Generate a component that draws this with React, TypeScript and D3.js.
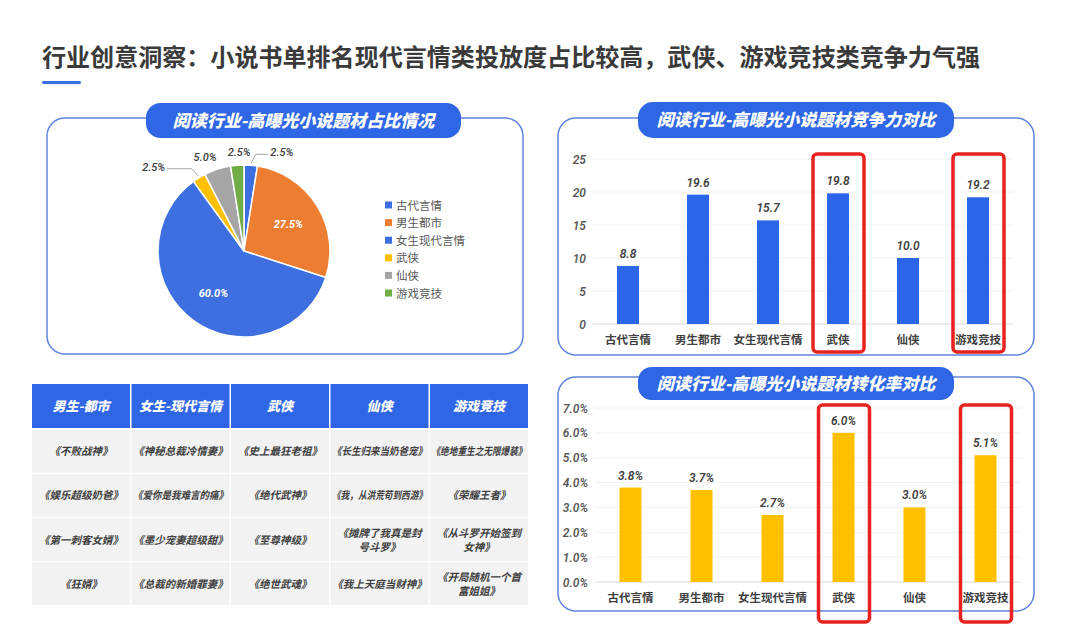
import React from 'react';
import * as d3 from 'd3';

// ---------- data ----------
const pageTitle = '行业创意洞察：小说书单排名现代言情类投放度占比较高，武侠、游戏竞技类竞争力气强';

const pieTitle = '阅读行业-高曝光小说题材占比情况';
const pieCategories = ['古代言情', '男生都市', '女生现代言情', '武侠', '仙侠', '游戏竞技'];
const pieShares = [2.5, 27.5, 60.0, 2.5, 5.0, 2.5];
const pieColors = ['#3d6fe0', '#ed7d31', '#3d6fe0', '#ffc000', '#a5a5a5', '#70ad47'];

const barCategories = ['古代言情', '男生都市', '女生现代言情', '武侠', '仙侠', '游戏竞技'];
const compTitle = '阅读行业-高曝光小说题材竞争力对比';
const competitiveness = [8.8, 19.6, 15.7, 19.8, 10.0, 19.2];
const compTicks = [0, 5, 10, 15, 20, 25];

const convTitle = '阅读行业-高曝光小说题材转化率对比';
const conversionRate = [3.8, 3.7, 2.7, 6.0, 3.0, 5.1];
const convTicks = [0, 1, 2, 3, 4, 5, 6, 7];

const highlighted = ['武侠', '游戏竞技'];

const tableHeaders = ['男生-都市', '女生-现代言情', '武侠', '仙侠', '游戏竞技'];
const tableRows = [
  ['《不败战神》', '《神秘总裁冷情妻》', '《史上最狂老祖》', '《长生归来当奶爸宠》', '《绝地重生之无限爆装》'],
  ['《娱乐超级奶爸》', '《爱你是我难言的痛》', '《绝代武神》', '《我，从洪荒苟到西游》', '《荣耀王者》'],
  ['《第一刺客女婿》', '《墨少宠妻超级甜》', '《至尊神级》', '《摊牌了我真是封\n号斗罗》', '《从斗罗开始签到\n女神》'],
  ['《狂婿》', '《总裁的新婚罪妻》', '《绝世武魂》', '《我上天庭当财神》', '《开局随机一个首\n富姐姐》'],
];

// ---------- styles ----------
const CJK = "'Noto Sans CJK SC', 'Noto Sans', sans-serif";
const NUM = "Roboto, 'Noto Sans CJK SC', sans-serif";
const BLUE = '#2f66e6';
const PANEL = '#5f84dc';
const RED = '#e8231f';

function Pill({ x, y, w, h, text }: { x: number; y: number; w: number; h: number; text: string }) {
  return (
    <g>
      <rect x={x} y={y} width={w} height={h} rx={h / 2.4} fill={BLUE} />
      <text
        x={x + w / 2}
        y={y + h / 2 + 6}
        textAnchor="middle"
        fill="#fff"
        fontFamily={CJK}
        fontWeight={900}
        fontStyle="italic"
        fontSize={17}
      >
        {text}
      </text>
    </g>
  );
}

function PieChart() {
  const cx = 244;
  const cy = 251;
  const r = 86;
  const pie = d3.pie<number>().sort(null).value((d) => d);
  const arcs = pie(pieShares);
  const arc = d3.arc<d3.PieArcDatum<number>>().innerRadius(0).outerRadius(r);
  const inLabel = d3.arc<d3.PieArcDatum<number>>().innerRadius(52).outerRadius(52);
  const polar = (rad: number, a: number) => [cx + rad * Math.sin(a), cy - rad * Math.cos(a)];
  const shifts = [30, 0, 0, -38, -8, 3];
  const legendY = d3.scalePoint<string>().domain(pieCategories).range([205, 293]);
  return (
    <g>
      <rect x={47} y={118} width={476} height={236} rx={18} fill="#fff" stroke={PANEL} strokeWidth={1.5} />
      <Pill x={146} y={103} w={315} h={35} text={pieTitle} />
      <g transform={`translate(${cx},${cy})`}>
        {arcs.map((a, i) => (
          <path key={i} d={arc(a) || ''} fill={pieColors[i]} stroke="#fff" strokeWidth={1.5} />
        ))}
      </g>
      {arcs.map((a, i) => {
        const txt = pieShares[i].toFixed(1) + '%';
        if (pieShares[i] > 10) {
          const [lx, ly] = inLabel.centroid(a);
          return (
            <text key={i} x={cx + lx} y={cy + ly + 4} textAnchor="middle" fill="#fff" fontFamily={NUM}
              fontStyle="italic" fontWeight={700} fontSize={11}>
              {txt}
            </text>
          );
        }
        const mid = (a.startAngle + a.endAngle) / 2;
        const [px, py] = polar(r + 14, mid);
        const lx = px + shifts[i];
        const [ex, ey] = polar(r + 2, mid);
        const hasLeader = Math.abs(shifts[i]) > 10;
        const anchorX = shifts[i] > 0 ? lx - 14 : lx + 13;
        return (
          <g key={i}>
            {hasLeader && (
              <polyline
                points={`${ex},${ey} ${shifts[i] > 0 ? ex + 5 : ex - 6},${py + 3} ${anchorX},${py + 3}`}
                fill="none"
                stroke="#a6a6a6"
                strokeWidth={1}
              />
            )}
            <text x={lx} y={py + 5} textAnchor="middle" fill="#404040" fontFamily={NUM}
              fontStyle="italic" fontWeight={500} fontSize={11}>
              {txt}
            </text>
          </g>
        );
      })}
      {pieCategories.map((c, i) => (
        <g key={c}>
          <rect x={385} y={(legendY(c) as number) - 3.5} width={7} height={7} fill={pieColors[i]} />
          <text x={396} y={(legendY(c) as number) + 4.5} fill="#595959" fontFamily={CJK} fontSize={11.5}>
            {c}
          </text>
        </g>
      ))}
    </g>
  );
}

type BarProps = {
  title: string;
  values: number[];
  ticks: number[];
  tickFmt: (v: number) => string;
  valFmt: (v: number) => string;
  color: string;
  panelY: number;
  panelH: number;
  pillY: number;
  pillH: number;
  xRange: [number, number];
  yRange: [number, number];
  boxTop: number;
  boxBottom: number;
};

function BarChart(p: BarProps) {
  const x = d3.scaleBand<string>().domain(barCategories).range(p.xRange).paddingInner(0).paddingOuter(0);
  const y = d3.scaleLinear().domain([0, p.ticks[p.ticks.length - 1]]).range(p.yRange);
  const bw = 22;
  const bx = (c: string) => (x(c) as number) + x.bandwidth() / 2;
  return (
    <g>
      <rect x={558} y={p.panelY} width={476} height={p.panelH} rx={18} fill="#fff" stroke={PANEL} strokeWidth={1.5} />
      <Pill x={638} y={p.pillY} w={316} h={p.pillH} text={p.title} />
      {p.ticks.map((t) => (
        <g key={t}>
          <line x1={p.xRange[0]} x2={p.xRange[1]} y1={y(t)} y2={y(t)} stroke={t === 0 ? '#d9d9d9' : '#f0f0f0'} strokeWidth={1} />
          <text x={p.xRange[0] - 7} y={y(t) + 4.5} textAnchor="end" fill="#595959" fontFamily={NUM}
            fontStyle="italic" fontWeight={600} fontSize={12}>
            {p.tickFmt(t)}
          </text>
        </g>
      ))}
      {barCategories.map((c, i) => (
        <g key={c}>
          <rect x={bx(c) - bw / 2} y={y(p.values[i])} width={bw} height={y(0) - y(p.values[i])} fill={p.color} />
          <text x={bx(c)} y={y(p.values[i]) - 8} textAnchor="middle" fill="#404040" fontFamily={NUM}
            fontStyle="italic" fontWeight={600} fontSize={12}>
            {p.valFmt(p.values[i])}
          </text>
          <text x={bx(c)} y={y(0) + 20} textAnchor="middle" fill="#404040" fontFamily={CJK}
            fontWeight={700} fontSize={11.5}>
            {c}
          </text>
        </g>
      ))}
      {highlighted.map((c) => (
        <rect key={c} x={bx(c) - 25} y={p.boxTop} width={51} height={p.boxBottom - p.boxTop} rx={4}
          fill="none" stroke={RED} strokeWidth={3.5} />
      ))}
    </g>
  );
}

function Table() {
  const cols = d3.scaleBand<number>().domain(d3.range(tableHeaders.length)).range([32, 528]).paddingInner(0.015);
  const rows = d3.scaleBand<number>().domain(d3.range(tableRows.length)).range([430, 605]).paddingInner(0.03);
  const fs = 10.5;
  return (
    <g>
      {tableHeaders.map((h, j) => (
        <g key={h}>
          <rect x={cols(j)} y={384} width={cols.bandwidth()} height={44} fill={BLUE} />
          <text x={(cols(j) as number) + cols.bandwidth() / 2} y={411} textAnchor="middle" fill="#fff"
            fontFamily={CJK} fontWeight={900} fontStyle="italic" fontSize={13}>
            {h}
          </text>
        </g>
      ))}
      {tableRows.map((row, i) =>
        row.map((cell, j) => {
          const lines = cell.split('\n');
          const cxp = (cols(j) as number) + cols.bandwidth() / 2;
          const cyp = (rows(i) as number) + rows.bandwidth() / 2;
          const maxW = cols.bandwidth() - 3;
          return (
            <g key={`${i}-${j}`}>
              <rect x={cols(j)} y={rows(i)} width={cols.bandwidth()} height={rows.bandwidth()} fill="#f2f2f2" />
              {lines.map((ln, k) => {
                const est = ln.length * fs;
                const fit = est > maxW ? { textLength: maxW, lengthAdjust: 'spacingAndGlyphs' as const } : {};
                return (
                  <text key={k} x={cxp} y={cyp + 4 + (k - (lines.length - 1) / 2) * 14} textAnchor="middle"
                    fill="#404040" fontFamily={CJK} fontWeight={700} fontStyle="italic" fontSize={fs} {...fit}>
                    {ln}
                  </text>
                );
              })}
            </g>
          );
        })
      )}
    </g>
  );
}

export default function App() {
  return (
    <svg width={1080} height={636} style={{ position: 'absolute', left: 0, top: 0, background: '#fff' }}>
      <rect x={0} y={0} width={1080} height={636} fill="#fff" />
      <text x={42} y={66} fill="#3a3a3a" fontFamily={CJK} fontWeight={700} fontSize={24} textLength={938}
        lengthAdjust="spacingAndGlyphs">
        {pageTitle}
      </text>
      <rect x={42} y={81} width={39} height={3} rx={1.5} fill="#3d6fe0" />
      <PieChart />
      <Table />
      <BarChart
        title={compTitle}
        values={competitiveness}
        ticks={compTicks}
        tickFmt={(v) => String(v)}
        valFmt={(v) => v.toFixed(1)}
        color="#2c66e8"
        panelY={118}
        panelH={237}
        pillY={102}
        pillH={36}
        xRange={[593, 1013]}
        yRange={[324, 159]}
        boxTop={154}
        boxBottom={352}
      />
      <BarChart
        title={convTitle}
        values={conversionRate}
        ticks={convTicks}
        tickFmt={(v) => v.toFixed(1) + '%'}
        valFmt={(v) => v.toFixed(1) + '%'}
        color="#ffc000"
        panelY={377}
        panelH={234}
        pillY={367}
        pillH={33}
        xRange={[595, 1021]}
        yRange={[582, 408]}
        boxTop={405}
        boxBottom={622}
      />
    </svg>
  );
}
